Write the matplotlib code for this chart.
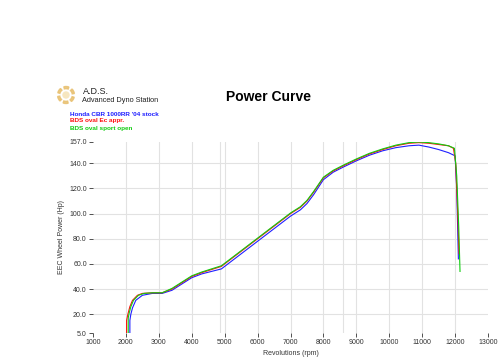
import matplotlib.pyplot as plt
import matplotlib.patches as mpatches

plt.rcParams['font.family'] = ['Liberation Sans', 'DejaVu Sans']

# stock bike
stock_rpm = [2120, 2120, 2150, 2200, 2300, 2500, 2800, 3100, 3400, 3700, 4000, 4300, 4600,
             4900, 5200, 5500, 5800, 6100, 6400, 6700, 7000, 7300, 7500, 7700, 8000, 8300,
             8600, 9000, 9400, 9800, 10200, 10600, 10900, 11200, 11500, 11800, 12000, 12050, 12100]
stock_hp = [4, 15, 20, 25, 31, 35, 36.5, 36.5, 39, 44, 49, 52, 54,
            56, 62, 68, 74, 80, 86, 92, 98, 103, 108, 115, 127, 133,
            137, 142, 146.5, 150, 152.5, 154, 154.5, 153, 151, 148.5, 146, 120, 64]

# oval Ec appr.
ec_rpm = [2020, 2020, 2060, 2120, 2200, 2350, 2500, 2800, 3100, 3400, 3700, 4000, 4300, 4600,
          4900, 5200, 5500, 5800, 6100, 6400, 6700, 7000, 7300, 7500, 7700, 8000, 8300, 8600,
          9000, 9400, 9800, 10200, 10600, 10900, 11200, 11500, 11800, 11950, 12020, 12080, 12120]
ec_hp = [5, 15, 20, 26, 31, 35, 36.5, 37, 37, 40, 45, 50, 53, 55.5,
         58, 64, 70, 76, 82, 88, 94, 100, 105, 110, 117, 128.5, 134, 138,
         143, 147.5, 151, 154, 156, 156.5, 156, 155, 154, 152, 140, 100, 68]

# oval sport open
sport_rpm = [2070, 2070, 2100, 2150, 2230, 2380, 2550, 2800, 3100, 3400, 3700, 4000, 4300, 4600,
             4900, 5200, 5500, 5800, 6100, 6400, 6700, 7000, 7300, 7500, 7700, 8000, 8300, 8600,
             9000, 9400, 9800, 10200, 10600, 10900, 11200, 11500, 11800, 11980, 12050, 12110, 12150]
sport_hp = [5, 17, 21, 26, 31, 35, 36.5, 37, 37, 40.5, 45.5, 50.5, 53.5, 56,
            58.5, 64.5, 70.5, 76.5, 82.5, 88.5, 94.5, 100.5, 105.5, 110.5, 117.5, 129, 134.5, 138.5,
            143.5, 148, 151.5, 154.5, 156.5, 157, 156.5, 155.5, 154, 152, 130, 90, 54]

series_names = ["Honda CBR 1000RR '04 stock", 'BDS oval Ec appr.', 'BDS oval sport open']
series_colors = ['#2020ff', '#ff1010', '#10cc10']

xticks = list(range(1000, 14000, 1000))
yticks = [5, 20, 40, 60, 80, 100, 120, 140, 157]
grid_x = list(range(2000, 13000, 1000)) + [4850, 8600]
grid_y = [20, 40, 60, 80, 100, 120, 140]

W, H = 500, 364
fig = plt.figure(figsize=(W / 100, H / 100), dpi=100)
ax = fig.add_axes([93 / W, 1 - 333 / H, (488 - 93) / W, (333 - 142) / H])

for gx in grid_x:
    ax.axvline(gx, color='#e2e2e2', lw=0.8, zorder=0)
for gy in grid_y:
    ax.axhline(gy, color='#e2e2e2', lw=0.8, zorder=0)

ax.plot(stock_rpm, stock_hp, color=series_colors[0], lw=0.8)
ax.plot(ec_rpm, ec_hp, color=series_colors[1], lw=0.8)
ax.plot(sport_rpm, sport_hp, color=series_colors[2], lw=0.8)

ax.set_xlim(1000, 13000)
ax.set_ylim(5, 157)
ax.set_xticks(xticks)
ax.set_xticklabels([str(v) for v in xticks])
ax.set_yticks(yticks)
ax.set_yticklabels(['%.1f' % v for v in yticks])
ax.tick_params(labelsize=5, colors='#333333', length=3, width=0.6, pad=1.5)
for s in ax.spines.values():
    s.set_visible(False)

ax.set_xlabel('Revolutions (rpm)', fontsize=5, color='#333333', labelpad=2.5)
ax.set_ylabel('EEC Wheel Power (Hp)', fontsize=5, color='#333333', labelpad=3)

# header
fig.text(269 / W, 1 - 97 / H, 'Power Curve', fontsize=10, fontweight='bold',
         ha='center', va='center', color='black')
fig.text(83 / W, 1 - 91 / H, 'A.D.S.', fontsize=6.5, ha='left', va='center', color='#222222')
fig.text(82 / W, 1 - 100 / H, 'Advanced Dyno Station', fontsize=5.3, ha='left', va='center',
         color='#222222')

# logo ring
logo = fig.add_axes([56 / W, 1 - 105 / H, 20 / W, 20 / H])
logo.set_xlim(-1, 1)
logo.set_ylim(-1, 1)
logo.axis('off')
for start in range(0, 360, 60):
    logo.add_patch(mpatches.Wedge((0, 0), 0.85, start + 10, start + 45, width=0.22,
                                  color='#e8c070', alpha=0.85))
logo.add_patch(mpatches.Circle((0, 0), 0.3, color='#f6e6c0'))

for i, (name, c) in enumerate(zip(series_names, series_colors)):
    fig.text(70 / W, 1 - (114 + 7 * i) / H, name, fontsize=4.6, fontweight='bold',
             color=c, ha='left', va='center')

fig.savefig('out.png', dpi=100)
